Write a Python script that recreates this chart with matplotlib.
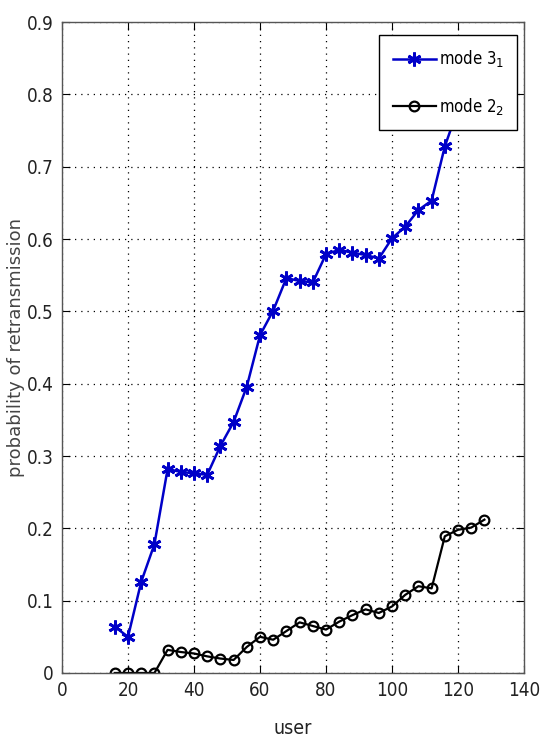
import matplotlib
matplotlib.use("Agg")
import matplotlib.pyplot as plt
from matplotlib.ticker import MultipleLocator
from matplotlib import font_manager as fm

users_blue = [16, 20, 24, 28, 32, 36, 40, 44, 48, 52, 56, 60, 64, 68, 72, 76,
              80, 84, 88, 92, 96, 100, 104, 108, 112, 116, 120, 124, 128]
mode31 = [0.064, 0.050, 0.126, 0.178, 0.282, 0.278, 0.276, 0.274, 0.314, 0.347,
          0.396, 0.467, 0.501, 0.546, 0.542, 0.540, 0.579, 0.585, 0.581, 0.578,
          0.573, 0.601, 0.617, 0.640, 0.653, 0.728, 0.78, 0.82, 0.85]
users_black = [16, 20, 24, 28, 32, 36, 40, 44, 48, 52, 56, 60, 64, 68, 72, 76,
               80, 84, 88, 92, 96, 100, 104, 108, 112, 116, 120, 124, 128]
mode22 = [0.0, 0.0, 0.0, 0.0, 0.032, 0.029, 0.027, 0.023, 0.020, 0.018, 0.036,
          0.050, 0.046, 0.058, 0.070, 0.065, 0.060, 0.071, 0.080, 0.088, 0.083,
          0.092, 0.108, 0.120, 0.117, 0.189, 0.198, 0.201, 0.212]

# find a narrow / condensed sans font, if any is installed
narrow_file = None
prefs = ['LiberationSansNarrow-Regular', 'DejaVuSansCondensed.ttf', 'Condensed-Regular', 'Narrow']
files = [f.fname for f in fm.fontManager.ttflist]
for key in prefs:
    for fn in files:
        base = fn.split('/')[-1]
        if key in base and 'Bold' not in base and 'Italic' not in base and 'Oblique' not in base:
            narrow_file = fn
            break
    if narrow_file:
        break
if narrow_file is None:
    for fn in fm.findSystemFonts():
        base = fn.split('/')[-1]
        if ('Narrow' in base or 'Condensed' in base) and 'Bold' not in base \
                and 'Italic' not in base and 'Oblique' not in base:
            narrow_file = fn
            break

def nfont(size):
    if narrow_file:
        return fm.FontProperties(fname=narrow_file, size=size)
    return fm.FontProperties(family=['Liberation Sans', 'DejaVu Sans'], size=size * 0.85)

fig = plt.figure(figsize=(5.42, 7.36), dpi=100)
ax = fig.add_axes([0.1144, 0.0856, 0.9668 - 0.1144, 0.9701 - 0.0856])

ax.plot(users_blue, mode31, color='#0000c8', lw=1.8, marker=(6, 2, 0), ms=10,
        mew=2.0, label='mode 3$_1$')
ax.plot(users_black, mode22, color='black', lw=1.6, marker='o', ms=7,
        mfc='none', mew=1.6, label='mode 2$_2$')

ax.set_xlim(0, 140)
ax.set_ylim(0, 0.9)
ax.xaxis.set_major_locator(MultipleLocator(20))
ax.yaxis.set_major_locator(MultipleLocator(0.1))
ax.xaxis.set_major_formatter(plt.FuncFormatter(lambda v, p: f"{int(round(v))}"))
ax.yaxis.set_major_formatter(plt.FuncFormatter(lambda v, p: "0" if abs(v) < 1e-9 else f"{v:.1f}"))
ax.grid(True, color='black', linestyle=(0, (1, 4)), linewidth=0.9)
ax.tick_params(direction='in', top=True, right=True, length=6, width=0.8,
               colors='black', pad=6)
fig.canvas.draw()
for lbl in ax.get_xticklabels() + ax.get_yticklabels():
    lbl.set_fontproperties(nfont(13.5))
    lbl.set_color('#222222')
for s in ax.spines.values():
    s.set_color('#555555')
    s.set_linewidth(1.0)

ax.set_xlabel('user', fontproperties=nfont(14), color='#222222', va='center')
ax.xaxis.set_label_coords(0.5, -0.0845)
ax.set_ylabel('probability of retransmission', fontsize=13, family='DejaVu Sans',
              color='#444444', va='center')
ax.yaxis.set_label_coords(-0.1, 0.5)

leg = ax.legend(loc='upper right', bbox_to_anchor=(0.985, 0.98), borderaxespad=0,
                fancybox=False, framealpha=1, edgecolor='black',
                prop=nfont(12), handlelength=2.6,
                handletextpad=0.15, borderpad=0.8, labelspacing=1.6)
leg.get_frame().set_linewidth(1.0)
leg.set_zorder(10)

fig.savefig('out.png', dpi=100)
